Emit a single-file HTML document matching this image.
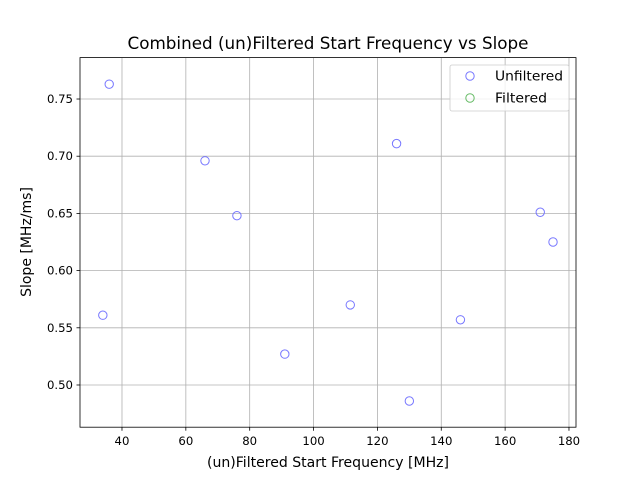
<!DOCTYPE html>
<html><head><meta charset="utf-8"><style>
body{margin:0;background:#fff}
svg text{font-family:"DejaVu Sans","Liberation Sans",sans-serif;fill:#000}
</style></head><body>
<svg id="chart" width="640" height="480">
<rect width="640" height="480" fill="#fff"/>
<g id="grid"></g>
<g id="ticks"></g>
<g id="pts"></g>
<rect x="80" y="57.6" width="496" height="369.6" fill="none" stroke="#000" stroke-width="0.8"/>
<text x="328" y="49" text-anchor="middle" font-size="16.8" textLength="401" lengthAdjust="spacingAndGlyphs">Combined (un)Filtered Start Frequency vs Slope</text>
<text x="328" y="467" text-anchor="middle" font-size="14" textLength="242" lengthAdjust="spacingAndGlyphs">(un)Filtered Start Frequency [MHz]</text>
<text x="31" y="242" text-anchor="middle" font-size="14" transform="rotate(-90 31 242)">Slope [MHz/ms]</text>
<g>
<rect x="450" y="65" width="119" height="46" rx="2" fill="#fff" fill-opacity="0.8" stroke="#ccc" stroke-width="0.8"/>
<circle cx="470" cy="76" r="4.2" fill="none" stroke="#7777ff"/>
<text x="495" y="80.5" font-size="13.5" textLength="68" lengthAdjust="spacingAndGlyphs">Unfiltered</text>
<circle cx="470" cy="98" r="4.2" fill="none" stroke="#66bb66"/>
<text x="495" y="102.5" font-size="13.5" textLength="52" lengthAdjust="spacingAndGlyphs">Filtered</text>
</g>
</svg>
<script>
const xValues=[36,66,76,34,91,111.5,126,130,146,171,175];
const yValues=[0.763,0.696,0.648,0.561,0.527,0.570,0.711,0.486,0.557,0.651,0.625];
const xTicks=[40,60,80,100,120,140,160,180];
const yTicks=[0.50,0.55,0.60,0.65,0.70,0.75];
const L=80,R=576,T=57.6,B=427.2,xMin=26.85,xMax=182.2,yMin=0.4631,yMax=0.7862;
const sx=v=>L+(v-xMin)/(xMax-xMin)*(R-L);
const sy=v=>B-(v-yMin)/(yMax-yMin)*(B-T);
const NS="http://www.w3.org/2000/svg";
const grid=document.getElementById('grid'),ticks=document.getElementById('ticks'),pts=document.getElementById('pts');
function mk(tag,attrs,parent){const e=document.createElementNS(NS,tag);for(const k in attrs)e.setAttribute(k,attrs[k]);parent.appendChild(e);return e;}
xTicks.forEach(t=>{const x=sx(t);
const g=mk('line',{x1:x,x2:x,y1:T,y2:B,stroke:'#b0b0b0','stroke-width':0.8},grid);


mk('line',{x1:x,x2:x,y1:B,y2:B+3.5,stroke:'#000','stroke-width':0.8},ticks);
const tx=mk('text',{x:x,y:B+18,'text-anchor':'middle','font-size':11.7},ticks);tx.textContent=t;


});
yTicks.forEach(t=>{const y=sy(t);
const g=mk('line',{x1:L,x2:R,y1:y,y2:y,stroke:'#b0b0b0','stroke-width':0.8},grid);


mk('line',{x1:L-3.5,x2:L,y1:y,y2:y,stroke:'#000','stroke-width':0.8},ticks);
const tx=mk('text',{x:L-7,y:y+4,'text-anchor':'end','font-size':11.7},ticks);tx.textContent=t.toFixed(2);


});
xValues.forEach((v,i)=>{
const c=mk('circle',{cx:sx(v),cy:sy(yValues[i]),r:4.2,fill:'none',stroke:'#7777ff','stroke-width':1},pts);


});
</script>
</body></html>
